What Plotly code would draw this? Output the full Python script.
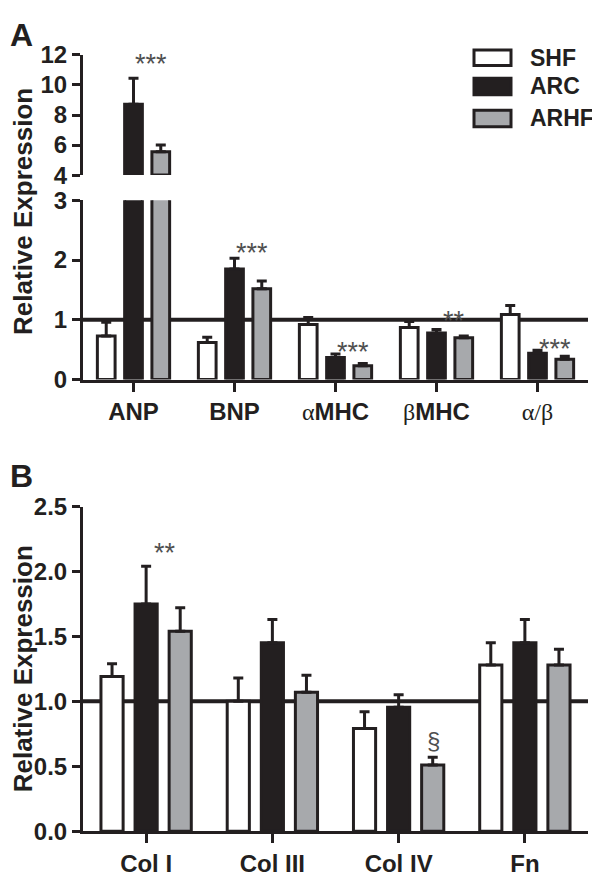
import plotly.graph_objects as go

# ---------------- data ----------------
groups = ["SHF", "ARC", "ARHF"]

cats_a = ["ANP", "BNP", "αMHC", "βMHC", "α/β"]
shf_a = [0.73, 0.62, 0.92, 0.87, 1.09]
shf_a_sem = [0.23, 0.09, 0.12, 0.10, 0.15]
arc_a = [8.71, 1.85, 0.37, 0.78, 0.44]
arc_a_sem = [1.74, 0.18, 0.06, 0.06, 0.05]
arhf_a = [5.55, 1.52, 0.23, 0.70, 0.34]
arhf_a_sem = [0.45, 0.13, 0.04, 0.03, 0.05]
sig_a = ["***", "***", "***", "**", "***"]
sig_a_y = [11.9, 2.25, 0.60, 1.12, 0.65]

cats_b = ["Col I", "Col III", "Col IV", "Fn"]
shf_b = [1.19, 1.00, 0.79, 1.28]
shf_b_sem = [0.10, 0.18, 0.13, 0.17]
arc_b = [1.75, 1.45, 0.955, 1.45]
arc_b_sem = [0.29, 0.18, 0.095, 0.18]
arhf_b = [1.54, 1.07, 0.51, 1.28]
arhf_b_sem = [0.18, 0.13, 0.06, 0.12]
sig_b = ["**", "", "§", ""]
sig_b_y = [2.2, None, 0.71, None]

ticks_a_upper = [4, 6, 8, 10, 12]
ticks_a_lower = [0, 1, 2, 3]
ticks_b = [0.0, 0.5, 1.0, 1.5, 2.0, 2.5]
break_low = 4

# ---------------- style ----------------
FONT = "Liberation Sans, Arial, Helvetica, sans-serif"
INK = "#231f20"
STAR = "#505050"
fills = {"SHF": "#ffffff", "ARC": "#231f20", "ARHF": "#a7a9ac"}
OFF = 8                      # page body margin
W, H = 600 - OFF, 880 - OFF


def px(xp):
    return (xp - OFF) / W


def py(yp):
    return 1 - (yp - OFF) / H


serif = "font-family:Liberation Serif,Times New Roman,serif;font-weight:normal"
ticktext_a = [
    "ANP", "BNP",
    f"<span style='{serif}'>α</span>MHC",
    f"<span style='{serif}'>β</span>MHC",
    f"<span style='{serif}'>α/β</span>",
]

fig = go.Figure()


def err(sem):
    return dict(type="data", array=sem, arrayminus=[0] * len(sem), symmetric=False,
                color=INK, thickness=3, width=5)


series_a = [("SHF", shf_a, shf_a_sem), ("ARC", arc_a, arc_a_sem), ("ARHF", arhf_a, arhf_a_sem)]
series_b = [("SHF", shf_b, shf_b_sem), ("ARC", arc_b, arc_b_sem), ("ARHF", arhf_b, arhf_b_sem)]

for name, vals, sem in series_a:
    fig.add_trace(go.Bar(
        x=cats_a, y=vals, name=name, error_y=err(sem),
        marker=dict(color=fills[name], line=dict(color=INK, width=3)),
        xaxis="x", yaxis="y", showlegend=False, hoverinfo="skip"))
for name, vals, sem in series_a:
    up = [v - break_low if v > break_low else None for v in vals]
    fig.add_trace(go.Bar(
        x=cats_a, y=up, base=break_low, name=name, error_y=err(sem),
        marker=dict(color=fills[name], line=dict(color=INK, width=3)),
        xaxis="x", yaxis="y2", showlegend=False, hoverinfo="skip"))
for name, vals, sem in series_b:
    fig.add_trace(go.Bar(
        x=cats_b, y=vals, name=name, error_y=err(sem),
        marker=dict(color=fills[name], line=dict(color=INK, width=3)),
        xaxis="x2", yaxis="y3", showlegend=False, hoverinfo="skip"))

tick_font = dict(family=FONT, size=24, color=INK, weight="bold")
axis_common = dict(showline=True, linewidth=3, linecolor=INK, ticks="outside",
                   tickwidth=3, tickcolor=INK, showgrid=False, zeroline=False,
                   tickfont=tick_font)

fig.update_layout(
    width=W, height=H, margin=dict(l=0, r=0, t=0, b=0),
    paper_bgcolor="white", plot_bgcolor="white",
    barmode="group", bargap=0.19, bargroupgap=0.35, showlegend=False,
    font=dict(family=FONT, color=INK),
    xaxis=dict(domain=[px(83), px(588)], anchor="y", type="category", range=[-0.5, 4.5],
               tickvals=cats_a, ticktext=ticktext_a, ticklen=9, **axis_common),
    yaxis=dict(domain=[py(377), py(192)], anchor="x", range=[0, 3],
               tickvals=ticks_a_lower, ticklen=8, **axis_common),
    yaxis2=dict(domain=[py(166), py(42)], anchor="x", range=[4, 12],
                tickvals=ticks_a_upper, ticklen=8, **axis_common),
    xaxis2=dict(domain=[px(83), px(588)], anchor="y3", type="category", range=[-0.5, 3.5],
                ticklen=9, **axis_common),
    yaxis3=dict(domain=[py(843), py(508)], anchor="x2", range=[0, 2.5],
                tickvals=ticks_b, tickformat=".1f", ticklen=8, **axis_common),
)

# reference lines at 1.0
fig.add_shape(type="line", xref="x domain", yref="y", x0=0, x1=1, y0=1, y1=1,
              line=dict(color=INK, width=4), layer="below")
fig.add_shape(type="line", xref="x2 domain", yref="y3", x0=0, x1=1, y0=1, y1=1,
              line=dict(color=INK, width=4), layer="below")

# significance marks
for i, (t, yv) in enumerate(zip(sig_a, sig_a_y)):
    fig.add_annotation(x=i + 0.17, y=yv, xref="x", yref="y2" if i == 0 else "y",
                       text=t, showarrow=False, yshift=-8,
                       font=dict(family=FONT, size=27, color=STAR))
for i, (t, yv) in enumerate(zip(sig_b, sig_b_y)):
    if t:
        fig.add_annotation(x=i + (0.15 if t == "**" else 0.28), y=yv, xref="x2", yref="y3",
                           text=t, showarrow=False, yshift=-2 if t == "§" else -8,
                           font=dict(family=FONT, size=24 if t == "§" else 27, color=STAR))

# axis titles
for yc in (204, 676):
    fig.add_annotation(x=px(23), y=py(yc), xref="paper", yref="paper", text="Relative Expression",
                       textangle=-90, showarrow=False, xanchor="center", yanchor="middle",
                       font=dict(family=FONT, size=26, color=INK, weight="bold"))

# panel letters
for letter, yc in (("A", 21), ("B", 476)):
    fig.add_annotation(x=0, y=py(yc), xref="paper", yref="paper", text=letter,
                       showarrow=False, xanchor="left", yanchor="middle",
                       font=dict(family=FONT, size=32, color=INK, weight="bold"))

# legend
leg_rows = [(37, 53), (66, 83), (99, 116)]
for name, (y0, y1) in zip(groups, leg_rows):
    fig.add_shape(type="rect", xref="paper", yref="paper", x0=px(474), x1=px(511),
                  y0=py(y1), y1=py(y0), fillcolor=fills[name], line=dict(color=INK, width=3))
    fig.add_annotation(x=px(528), y=py((y0 + y1) / 2), xref="paper", yref="paper", text=name,
                       showarrow=False, xanchor="left", yanchor="middle",
                       font=dict(family=FONT, size=23, color=INK, weight="bold"))

fig.write_html("out.html")
